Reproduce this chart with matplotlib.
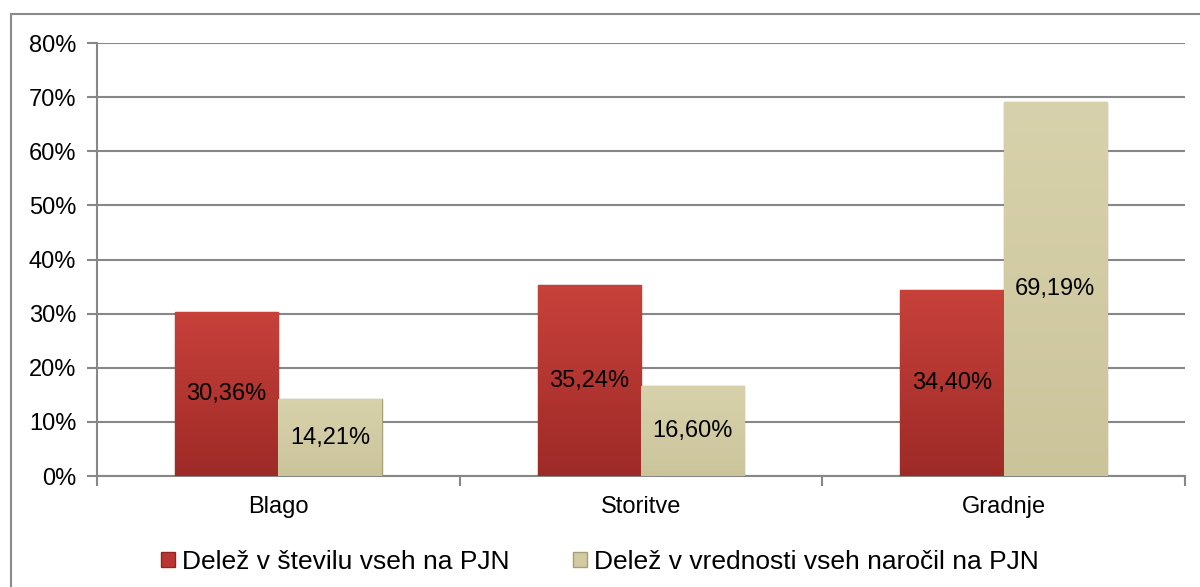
import matplotlib
matplotlib.use("Agg")
import matplotlib.pyplot as plt
import numpy as np
from matplotlib.patches import Rectangle

# data
categories = ["Blago", "Storitve", "Gradnje"]
delez_stevilo = [30.36, 35.24, 34.40]
delez_vrednost = [14.21, 16.60, 69.19]
series_labels = ["Delež v številu vseh na PJN", "Delež v vrednosti vseh naročil na PJN"]
yticks = [0, 10, 20, 30, 40, 50, 60, 70, 80]

plt.rcParams['font.family'] = ['Liberation Sans', 'DejaVu Sans']
plt.rcParams['font.size'] = 17

fig = plt.figure(figsize=(12, 5.87), dpi=100)
ax = fig.add_axes([0.0808, 0.189, 0.9067, 0.7377])

x = np.arange(len(categories))
width = 0.285
grid_color = '#878787'

bars_red = ax.bar(x - width / 2, delez_stevilo, width, color='#BB3632',
                  edgecolor='#8E2522', linewidth=1.0, label=series_labels[0], zorder=3)
bars_beige = ax.bar(x + width / 2, delez_vrednost, width, color='#D2CBA2',
                    edgecolor='#A69E78', linewidth=1.0, label=series_labels[1], zorder=3)


# soft vertical shading inside each bar, like the bevel of the original
def shade(bars, top_col, bottom_col):
    grad = np.linspace(0, 1, 256).reshape(-1, 1)
    c1 = np.array(matplotlib.colors.to_rgb(top_col))
    c2 = np.array(matplotlib.colors.to_rgb(bottom_col))
    img = c1 + (c2 - c1) * grad[..., None]
    for b in bars:
        x0, y0, w, h = b.get_x(), b.get_y(), b.get_width(), b.get_height()
        im = ax.imshow(img, extent=[x0, x0 + w, y0, y0 + h], origin='upper',
                       aspect='auto', zorder=3.5)
        im.set_clip_path(b)


shade(bars_red, '#C8413B', '#9E2A27')
shade(bars_beige, '#D8D2AC', '#CBC49B')

# values written in the middle of each bar
for bars, vals in [(bars_red, delez_stevilo), (bars_beige, delez_vrednost)]:
    for b, v in zip(bars, vals):
        ax.text(b.get_x() + b.get_width() / 2, v / 2, f"{v:.2f}%".replace('.', ','),
                ha='center', va='center', fontsize=17, color='black', zorder=5)

ax.set_xlim(-0.5, len(categories) - 0.5)
ax.set_ylim(0, 80)
ax.set_yticks(yticks)
ax.set_yticklabels([f"{t}%" for t in yticks])
ax.yaxis.grid(True, color=grid_color, linewidth=1.5, zorder=0)
ax.set_axisbelow(True)

ax.set_xticks(x)
ax.set_xticklabels(categories)
ax.set_xticks(np.arange(-0.5, len(categories)), minor=True)
ax.tick_params(axis='x', which='major', length=0, pad=14)
ax.tick_params(axis='x', which='minor', length=7, width=1.5, color=grid_color)
ax.tick_params(axis='y', length=7, width=1.5, color=grid_color, pad=8)

for side in ['top', 'right']:
    ax.spines[side].set_visible(False)
for side in ['left', 'bottom']:
    ax.spines[side].set_color(grid_color)
    ax.spines[side].set_linewidth(1.5)

leg = fig.legend(loc='center', bbox_to_anchor=(0.5, 1 - 562 / 587), ncol=2, frameon=False,
                 handlelength=0.53, handleheight=0.53, handletextpad=0.28,
                 columnspacing=2.4, fontsize=19)

# outer chart border (cut off at the right and bottom in the original)
fig.patches.append(Rectangle((11 / 1200, -0.05), 1.1, 1 - 14 / 587 + 0.05,
                             transform=fig.transFigure, fill=False,
                             edgecolor='#8A8A8A', linewidth=1.5))

plt.savefig('out.png', dpi=100)
plt.close()
